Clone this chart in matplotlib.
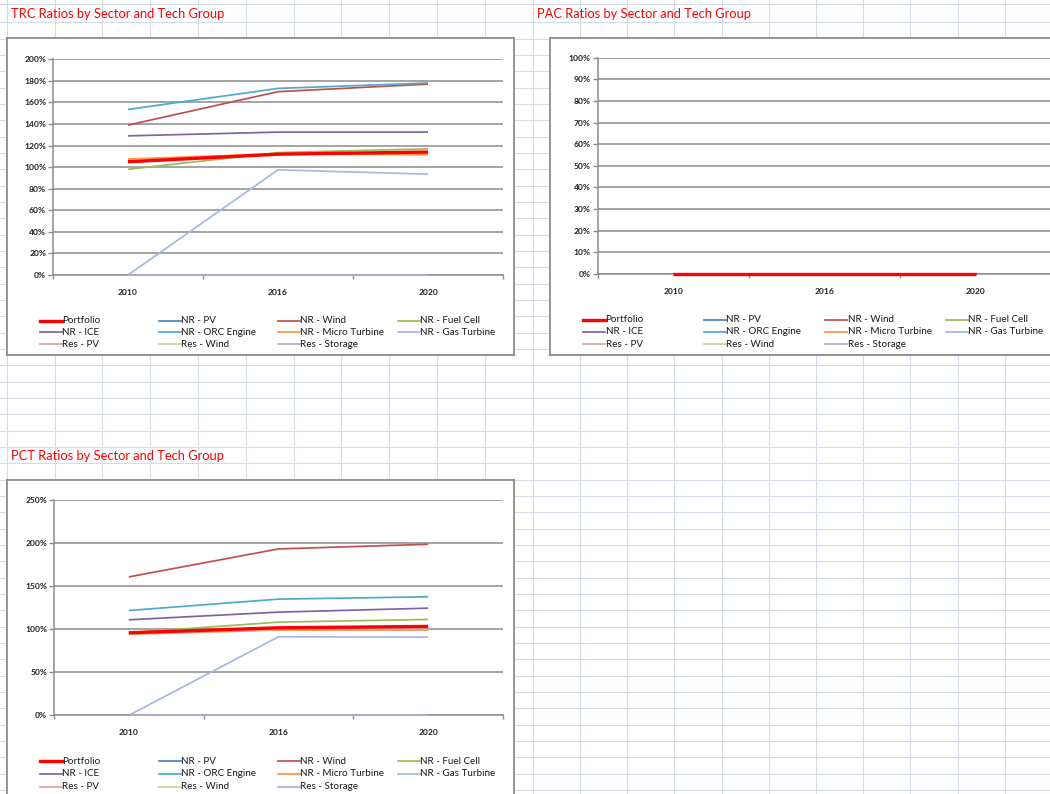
import matplotlib

matplotlib.use("Agg")
import matplotlib.pyplot as plt  # noqa: E402
import numpy as np  # noqa: E402
from matplotlib.lines import Line2D  # noqa: E402
from matplotlib.patches import Rectangle  # noqa: E402
from matplotlib.ticker import FuncFormatter, MultipleLocator  # noqa: E402

W, H, DPI = 1050, 794, 100
FONT = ["Lato", "DejaVu Sans"]
plt.rcParams["font.family"] = FONT

# --- data ---------------------------------------------------------------
YEARS = ["2010", "2016", "2020"]
SERIES = ["Portfolio", "NR - PV", "NR - Wind", "NR - Fuel Cell",
          "NR - ICE", "NR - ORC Engine", "NR - Micro Turbine", "NR - Gas Turbine",
          "Res - PV", "Res - Wind", "Res - Storage"]
COLORS = ["#FF0000", "#4F81BD", "#C0504D", "#9BBB59",
          "#8064A2", "#4BACC6", "#F79646", "#A5B9DD",
          "#DDA3A1", "#C3D69B", "#B8A9CC"]

nan = np.nan
# ratios as fractions, one row per SERIES entry (nan = no point drawn)
TRC_RATIOS = [
    [1.05, 1.12, 1.14],
    [nan, nan, nan],
    [1.39, 1.70, 1.77],
    [0.98, 1.135, 1.17],
    [1.29, 1.325, 1.325],
    [1.535, 1.73, 1.78],
    [1.075, 1.125, 1.115],
    [0.00, 0.975, 0.935],
    [nan, nan, nan],
    [nan, nan, nan],
    [0.00, 0.00, 0.00],
]
PAC_RATIOS = [[0.00, 0.00, 0.00]] + [[nan, nan, nan]] * 10
PCT_RATIOS = [
    [0.958, 1.016, 1.032],
    [nan, nan, nan],
    [1.607, 1.932, 1.986],
    [0.958, 1.082, 1.113],
    [1.109, 1.198, 1.244],
    [1.217, 1.349, 1.376],
    [0.943, 0.989, 0.989],
    [0.00, 0.912, 0.908],
    [0.950, 0.995, 0.995],
    [nan, nan, nan],
    [0.00, 0.00, 0.00],
]

# --- sheet background -----------------------------------------------------
fig = plt.figure(figsize=(W / DPI, H / DPI), dpi=DPI)
bg = fig.add_axes([0, 0, 1, 1])
bg.set_xlim(0, W)
bg.set_ylim(H, 0)
bg.axis("off")

col_x = np.r_[6.8 + 47.8 * np.arange(12), 532.7 + 47.2 * np.arange(1, 11)]
row_y = np.r_[4.0, 22.4 + 16.33 * np.arange(48)]
for x in col_x:
    bg.axvline(x, color="#D4DBE8", lw=0.8, zorder=0)
for y in row_y:
    bg.axhline(y, color="#D4DBE8", lw=0.8, zorder=0)


def px_axes(x0, y0, x1, y1):
    return fig.add_axes([x0 / W, 1 - y1 / H, (x1 - x0) / W, (y1 - y0) / H])


def draw_frame(x0, y0, x1, y1):
    # white chart area; only the edges that fall inside the sheet get a border
    x1c, y1c = min(x1, W), min(y1, H)
    bg.add_patch(Rectangle((x0, y0), x1c - x0, y1c - y0, facecolor="white",
                           edgecolor="none", zorder=2))
    kw = dict(color="#8C8C8C", lw=1.3, zorder=2.5)
    bg.add_line(Line2D([x0, x0], [y0, y1c], **kw))
    bg.add_line(Line2D([x0, x1c], [y0, y0], **kw))
    if x1 < W:
        bg.add_line(Line2D([x1, x1], [y0, y1c], **kw))
    if y1 < H:
        bg.add_line(Line2D([x0, x1c], [y1, y1], **kw))


def draw_chart(title, title_xy, frame, plot_box, values, ymax, ystep, legend_x, legend_y):
    bg.text(title_xy[0], title_xy[1], title, color="#FF0000", fontsize=9.3,
            va="center", ha="left", zorder=3)
    draw_frame(*frame)

    ax = px_axes(*plot_box)
    ax.set_facecolor("none")
    xs = np.arange(len(YEARS))
    # Portfolio is drawn last so it sits on top
    order = list(range(1, len(SERIES))) + [0]
    for k in order:
        lw = 2.4 if k == 0 else 1.25
        ax.plot(xs, values[k], color=COLORS[k], lw=lw, zorder=3 + k + (20 if k == 0 else 0),
                solid_capstyle="butt", clip_on=False)

    ax.set_xlim(-0.5, len(YEARS) - 0.5)
    ax.set_ylim(0, ymax)
    ax.yaxis.set_major_locator(MultipleLocator(ystep))
    ax.yaxis.set_major_formatter(FuncFormatter(lambda v, _: f"{v * 100:.0f}%"))
    ax.grid(axis="y", color="#8C8C8C", lw=1.1)
    ax.set_axisbelow(True)

    ax.set_xticks(np.arange(-0.5, len(YEARS), 1.0))
    ax.set_xticklabels([])
    ax.set_xticks(xs, minor=True)
    ax.set_xticklabels(YEARS, minor=True)
    ax.tick_params(axis="x", which="major", length=3, width=1.0, color="#8C8C8C")
    ax.tick_params(axis="x", which="minor", length=0, pad=10,
                   labelsize=6.1, labelcolor="#222222")
    ax.tick_params(axis="y", length=3.5, width=1.0, color="#8C8C8C", pad=1.5,
                   labelsize=6.1, labelcolor="#222222")
    for lab in ax.get_xticklabels(minor=True) + ax.get_yticklabels():
        lab.set_fontweight("bold")
    for side in ("top", "right"):
        ax.spines[side].set_visible(False)
    for side in ("left", "bottom"):
        ax.spines[side].set_color("#8C8C8C")
        ax.spines[side].set_linewidth(1.1)

    # legend, filled row by row like the spreadsheet
    for k, name in enumerate(SERIES):
        r, c = divmod(k, 4)
        x0 = legend_x[c]
        y0 = legend_y[r]
        bg.add_line(Line2D([x0, x0 + 22], [y0, y0], color=COLORS[k],
                           lw=2.4 if k == 0 else 1.25, zorder=4))
        bg.text(x0 + 22.5, y0, name, fontsize=7.1, va="center", ha="left",
                color="#1A1A1A", zorder=4)
    return ax


draw_chart("TRC Ratios by Sector and Tech Group", (11, 14),
           (7, 38, 514, 355), (53, 59.3, 503, 275), TRC_RATIOS, 2.0, 0.2,
           [39.5, 158.8, 278, 398], [320.7, 332.3, 344.3])

draw_chart("PAC Ratios by Sector and Tech Group", (537, 14),
           (549.5, 38, 1100, 355), (597.5, 57.7, 1051.5, 274), PAC_RATIOS, 1.0, 0.1,
           [583, 704, 825, 945.5], [319.5, 332, 344.3])

draw_chart("PCT Ratios by Sector and Tech Group", (11, 456),
           (7, 479.5, 514, 850), (54, 500, 503, 715.3), PCT_RATIOS, 2.5, 0.5,
           [39.5, 158.8, 278, 398], [761, 773.7, 786.7])

fig.savefig("out.png", dpi=DPI)
plt.close(fig)
